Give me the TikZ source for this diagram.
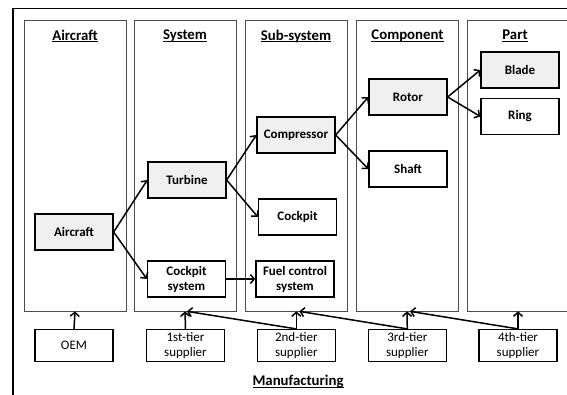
\documentclass[tikz,border=0pt]{standalone}
\usepackage{fontspec}
\setmainfont{Carlito}
\usetikzlibrary{arrows.meta}
\newcommand\myul[1]{\setbox0\hbox{#1}\rlap{\rule[-2.2pt]{\wd0}{1.1pt}}\box0}
\begin{document}
\begin{tikzpicture}[x=1pt,y=-1pt,
  panel/.style={draw=black!70,line width=0.7pt,minimum width=102pt,minimum height=291pt,inner sep=0pt},
  title/.style={font=\fontsize{14.8}{16}\selectfont\bfseries},
  box/.style={draw,line width=1.3pt,minimum width=78pt,minimum height=36pt,inner sep=1pt,align=center,font=\fontsize{13}{15}\selectfont\bfseries},
  gbox/.style={box,fill=black!6},
  sbox/.style={draw,line width=1.2pt,minimum width=78pt,minimum height=32pt,inner sep=1pt,align=center,font=\fontsize{13}{15}\selectfont},
  arr/.style={line width=1.5pt,-{Straight Barb[length=4pt,width=9pt,line width=1.5pt]}}
]
\clip (0,0) rectangle (567,395);
\draw[line width=1.5pt] (13,400) -- (13,8.5) -- (575,8.5);
% panels
\node[panel] (pAir) at (75,165.5) {};
\node[panel] (pSys) at (185,165.5) {};
\node[panel] (pSub) at (296.3,165.5) {};
\node[panel] (pComp) at (407,165.5) {};
\node[panel] (pPart) at (518,165.5) {};
% titles
\node[title] (tAir) at (75,36) {\myul{Aircraft}};
\node[title] (tSys) at (185,36) {\myul{System}};
\node[title] (tSub) at (296,36) {\myul{Sub-system}};
\node[title] (tComp) at (407.5,36) {\myul{Component}};
\node[title] (tPart) at (515,36) {\myul{Part}};
% nodes
\node[gbox] (aircraft) at (74,232) {Aircraft};
\node[gbox] (turbine) at (187,180) {Turbine};
\node[box] (cocksys) at (186.5,279) {Cockpit\\system};
\node[gbox] (compressor) at (296,135) {Compressor};
\node[box] (cockpit) at (297.5,217) {Cockpit};
\node[box] (fuel) at (295,279) {Fuel control\\system};
\node[gbox] (rotor) at (408,97) {Rotor};
\node[box] (shaft) at (408,169) {Shaft};
\node[gbox] (blade) at (520,70) {Blade};
\node[box] (ring) at (520,116.5) {Ring};
% edges
\draw[arr] (aircraft.east) -- (turbine.west);
\draw[arr] (aircraft.east) -- (cocksys.west);
\draw[arr] (turbine.east) -- (compressor.west);
\draw[arr] (turbine.east) -- (cockpit.west);
\draw[arr] (cocksys.east) -- (fuel.west);
\draw[arr] (compressor.east) -- (rotor.west);
\draw[arr] (compressor.east) -- (shaft.west);
\draw[arr] (rotor.east) -- (blade.west);
\draw[arr] (rotor.east) -- (ring.west);
% suppliers
\node[sbox] (oem) at (74,345.5) {OEM};
\node[sbox] (t1) at (185.5,345.5) {1st-tier\\supplier};
\node[sbox] (t2) at (296.3,345.5) {2nd-tier\\supplier};
\node[sbox] (t3) at (407.3,345.5) {3rd-tier\\supplier};
\node[sbox] (t4) at (518,345.5) {4th-tier\\supplier};
\draw[arr] (oem.north) -- (pAir.south);
\draw[arr] (t1.north) -- (pSys.south);
\draw[arr] (t2.north) -- (pSub.south);
\draw[arr] (t2.north) -- ([xshift=2pt]pSys.south);
\draw[arr] (t3.north) -- (pComp.south);
\draw[arr] (t3.north) -- ([xshift=3pt]pSub.south);
\draw[arr] (t4.north) -- (pPart.south);
\draw[arr] (t4.north) -- ([xshift=3pt]pComp.south);
\node[title] (manuf) at (298,382) {\myul{Manufacturing}};
\end{tikzpicture}
\end{document}
